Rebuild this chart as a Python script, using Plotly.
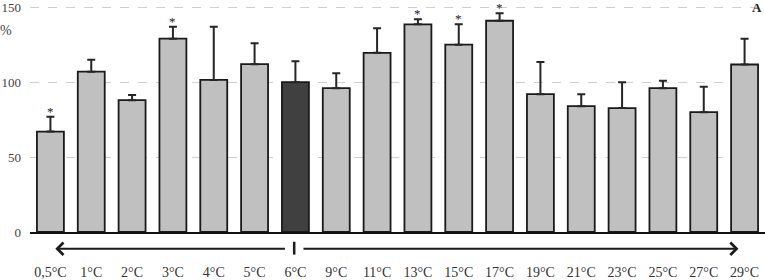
import plotly.graph_objects as go

categories = ["0,5°C", "1°C", "2°C", "3°C", "4°C", "5°C", "6°C", "9°C", "11°C",
              "13°C", "15°C", "17°C", "19°C", "21°C", "23°C", "25°C", "27°C", "29°C"]
values = [67, 107, 88, 129, 101.5, 112, 100, 96, 119.6, 138.6, 125, 141, 92, 84, 82.7, 96, 80, 111.8]
errors = [10, 8, 3.5, 8, 35.5, 14, 14, 10, 16.4, 3.4, 13.6, 5, 21.5, 8, 17.3, 5, 17, 17.2]
significant = [True, False, False, True, False, False, False, False, False,
               True, True, True, False, False, False, False, False, False]
control = "6°C"
y_ticks = [0, 50, 100, 150]

GRAY = "#c0c0c0"
DARK = "#404040"
colors = [DARK if c == control else GRAY for c in categories]
serif = "Liberation Serif, Times New Roman, serif"

fig = go.Figure()
fig.add_trace(go.Bar(
    x=categories, y=values,
    marker=dict(color=colors, line=dict(color="#1a1a1a", width=1.8)),
    error_y=dict(type="data", array=errors, arrayminus=[0] * len(errors), symmetric=False,
                 color="#262626", thickness=2, width=4),
    showlegend=False,
))

# significance stars above the error bars
for c, v, e, s in zip(categories, values, errors, significant):
    if s:
        fig.add_annotation(x=c, y=v + e, xref="x", yref="y", text="*", showarrow=False,
                           xanchor="center", yanchor="bottom", yshift=-4,
                           font=dict(family=serif, size=13, color="#222222"))

# arrows below the axis
ci = categories.index(control)
fig.add_annotation(x=0.12, y=-0.0736, xref="x", yref="paper", ax=ci - 0.22, ay=0,
                   axref="x", ayref="pixel", text="", showarrow=True,
                   arrowhead=4, arrowsize=1.2, arrowwidth=2, arrowcolor="#1a1a1a")
fig.add_annotation(x=len(categories) - 1 - 0.15, y=-0.0736, xref="x", yref="paper", ax=ci + 0.16, ay=0,
                   axref="x", ayref="pixel", text="", showarrow=True,
                   arrowhead=4, arrowsize=1.2, arrowwidth=2, arrowcolor="#1a1a1a")
fig.add_shape(type="line", xref="x", yref="paper", x0=ci - 0.03, x1=ci - 0.03, y0=-0.043, y1=-0.0996,
              line=dict(color="#1a1a1a", width=2.5))

fig.add_annotation(text="%", xref="paper", yref="paper", x=-0.0327, y=0.887, showarrow=False,
                   xanchor="center", yanchor="middle",
                   font=dict(family=serif, size=14, color="#444"))
fig.add_annotation(text="<b>A</b>", xref="paper", yref="paper", x=0.989, y=0.991, showarrow=False,
                   xanchor="center", yanchor="middle",
                   font=dict(family=serif, size=13, color="#222"))

fig.update_layout(
    width=765, height=280,
    margin=dict(l=30, r=0, t=4, b=45),
    paper_bgcolor="white", plot_bgcolor="white",
    bargap=0.34,
    font=dict(family=serif, color="#333"),
)
fig.update_xaxes(
    type="category", showline=True, linecolor="#111", linewidth=2, ticks="",
    tickfont=dict(family=serif, size=14, color="#333"), ticklabelstandoff=26,
    showgrid=False, range=[-0.5, len(categories) - 0.5],
)
fig.update_yaxes(
    range=[0, 151.5], tickvals=y_ticks, showgrid=True, gridcolor="#cfcfcf", griddash="dash",
    gridwidth=1, zeroline=False, showline=False, ticks="", ticklabeloverflow="allow",
    tickfont=dict(family=serif, size=13, color="#444"), ticklabelstandoff=8,
)

fig.write_html("out.html", config={"displayModeBar": False},
               post_script="document.body.style.margin='0';document.body.style.overflow='hidden';")
